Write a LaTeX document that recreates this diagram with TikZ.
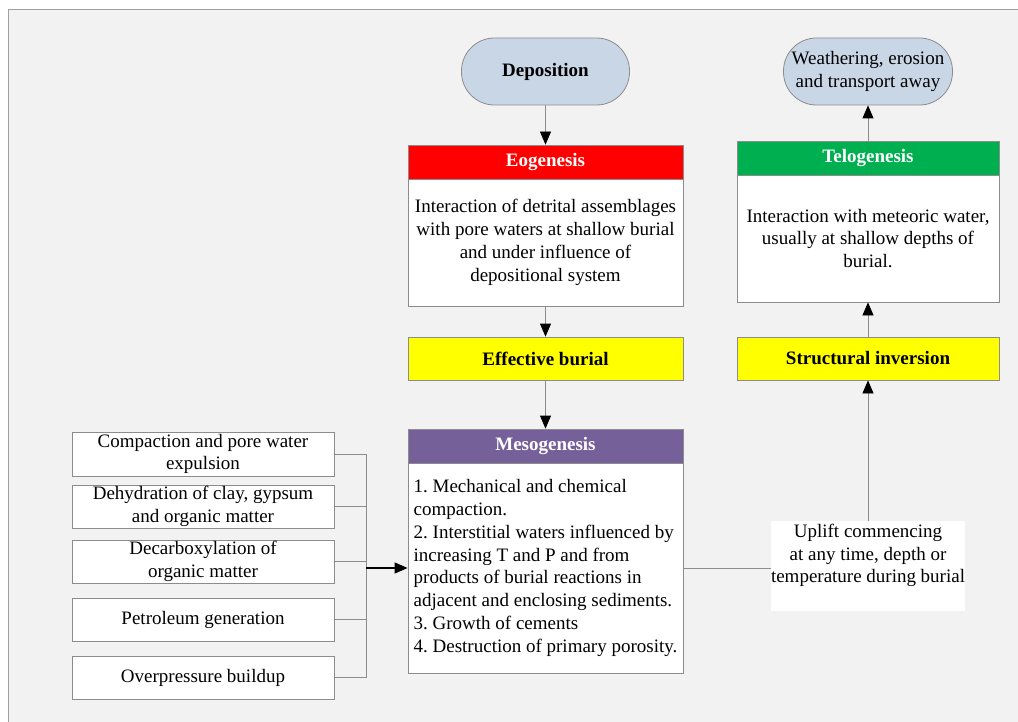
\documentclass[tikz,border=0pt]{standalone}
\usepackage{fontspec}
\setmainfont{Liberation Serif}
\usetikzlibrary{arrows.meta,positioning}

\definecolor{paper}{RGB}{242,242,242}
\definecolor{frame}{RGB}{160,160,160}
\definecolor{edge}{RGB}{140,140,140}
\definecolor{ovalblue}{RGB}{201,214,230}
\definecolor{eored}{RGB}{255,0,0}
\definecolor{telogreen}{RGB}{0,176,80}
\definecolor{mesopurple}{RGB}{118,96,154}
\definecolor{stageyellow}{RGB}{255,255,0}

\begin{document}
\frenchspacing
\begin{tikzpicture}[x=1pt, y=-1pt, font=\fontsize{19}{22.8}\selectfont]
		\tikzstyle{Oval}   = [draw=edge, line width=0.8pt, fill=ovalblue, rounded corners=33pt, align=center, inner sep=0pt]
		\tikzstyle{Head}   = [draw=edge, line width=0.8pt, text=white, font=\fontsize{19}{22.8}\selectfont\bfseries, inner sep=0pt]
		\tikzstyle{Body}   = [draw=edge, line width=0.8pt, fill=white, align=center, inner sep=0pt]
		\tikzstyle{Stage}  = [draw=edge, line width=0.8pt, fill=stageyellow, font=\fontsize{19}{22.8}\selectfont\bfseries, inner sep=0pt]
		\tikzstyle{Cause}  = [draw=edge, line width=0.8pt, fill=white, align=center, minimum width=262, minimum height=43, inner sep=0pt]
		\tikzstyle{Flow}   = [draw=edge, line width=0.8pt, -{Triangle[length=13pt, width=11pt, black]}]
		\tikzstyle{Link}   = [draw=edge, line width=0.8pt]
		\tikzstyle{Feed}   = [draw=black, line width=1.2pt, -{Triangle[length=13pt, width=11pt, black]}]

		\useasboundingbox (0,0) rectangle (1018,722);
		\fill [paper] (8,10) rectangle (1018,722);
		\draw [frame, line width=1pt] (8,722) -- (8,10) -- (1018,10);

		% central column
		\node (dep) at (545.5,71.5) [Oval, minimum width=168, minimum height=67] {\textbf{Deposition}};
		\node (eoh) at (545.5,162) [Head, fill=eored, minimum width=275, minimum height=34] {Eogenesis};
		\node (eob) at (545.5,242.5) [Body, minimum width=275, minimum height=127] {Interaction of detrital assemblages\\with pore waters at shallow burial\\and under influence of\\depositional system};
		\node (burial) at (545.5,358.5) [Stage, minimum width=275, minimum height=43] {Effective burial};
		\node (mesoh) at (545.5,446) [Head, fill=mesopurple, minimum width=275, minimum height=34] {Mesogenesis};
		\node (mesob) at (545.5,568) [Body, align=left, minimum width=275, minimum height=210] {1. Mechanical and chemical\\compaction.\\2. Interstitial waters influenced by\\increasing T and P and from\\products of burial reactions in\\adjacent and enclosing sediments.\\3. Growth of cements\\4. Destruction of primary porosity.};

		% right column
		\node (weather) at (868,71.5) [Oval, minimum width=169, minimum height=67] {Weathering, erosion\\and transport away};
		\node (teloh) at (868,158) [Head, fill=telogreen, minimum width=262, minimum height=34] {Telogenesis};
		\node (telob) at (868,238.5) [Body, minimum width=262, minimum height=127] {Interaction with meteoric water,\\usually at shallow depths of\\burial.};
		\node (inversion) at (868,358.5) [Stage, minimum width=262, minimum height=43] {Structural inversion};
		\node (uplift) at (868,566) [fill=white, inner sep=0pt] {\parbox[c][90pt][t]{194pt}{\centering\vspace*{3pt}Uplift commencing\\at any time, depth or\\temperature during burial}};

		% processes on the left
		\node (c1) at (203,454) [Cause, minimum height=44] {Compaction and pore water\\expulsion};
		\node (c2) at (203,506.5) [Cause] {Dehydration of clay, gypsum\\and organic matter};
		\node (c3) at (203,561.5) [Cause] {Decarboxylation of\\organic matter};
		\node (c4) at (203,619.5) [Cause] {Petroleum generation};
		\node (c5) at (203,677.5) [Cause] {Overpressure buildup};
		\coordinate (bus) at (366,568);

		\draw [Flow] (dep) to (eoh);
		\draw [Flow] (eob) to (burial);
		\draw [Flow] (burial) to (mesoh);
		\draw [Flow] (teloh) to (weather);
		\draw [Flow] (inversion) to (telob);
		\draw [Flow] (uplift) to (inversion);
		\draw [Link] (mesob.east) to (mesob.east -| uplift.west);

		\draw [Link] (c1.east) to (c1.east -| bus);
		\draw [Link] (c2.east) to (c2.east -| bus);
		\draw [Link] (c3.east) to (c3.east -| bus);
		\draw [Link] (c4.east) to (c4.east -| bus);
		\draw [Link] (c5.east) to (c5.east -| bus);
		\draw [Link] (c1.east -| bus) to (c5.east -| bus);
		\draw [Feed] (bus) to (mesob.west);
	\end{tikzpicture}
\end{document}
